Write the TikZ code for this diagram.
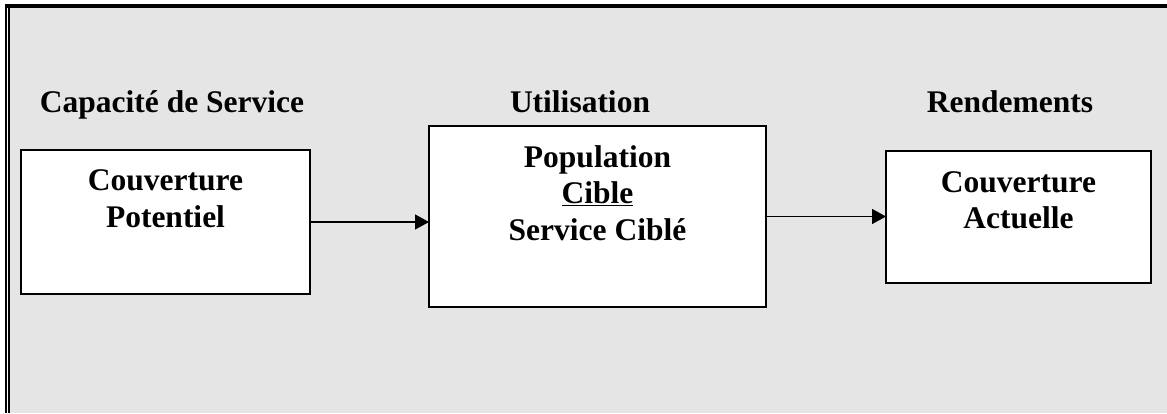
\documentclass[tikz,border=0pt]{standalone}
\usepackage{fontspec}
\setmainfont{Liberation Serif}
\usetikzlibrary{arrows.meta}
\definecolor{bggray}{HTML}{E5E5E5}
\tikzset{
  box/.style={draw=black, line width=2.5pt, fill=white, inner sep=0pt, outer sep=0pt},
  txt/.style={anchor=base, inner sep=0pt, font=\fontsize{31.5}{36.5}\selectfont\bfseries},
  conn/.style={line width=1.5pt, -{Triangle[length=14pt,width=15pt]}}
}
\begin{document}
\begin{tikzpicture}[x=1pt,y=-1pt]
\useasboundingbox (0,0) rectangle (1167,413);
\fill[white] (0,0) rectangle (1167,413);
\fill[bggray] (10,8) rectangle (1167,413);
\fill[black] (5,4) rectangle (1167,8);
\fill[black] (5,4) rectangle (7,413);
\fill[black] (8,8) rectangle (10,413);

\node[box, minimum width=289pt, minimum height=144pt] (b1) at (165.5,222) {};
\node[box, minimum width=337pt, minimum height=181pt] (b2) at (597.5,216.5) {};
\node[box, minimum width=265pt, minimum height=132pt] (b3) at (1018.5,217) {};

\node[txt] (t1) at (172,112) {Capacité de Service};
\node[txt] (t2) at (580,112) {Utilisation};
\node[txt] (t3) at (1010,112) {Rendements};

\node[txt] (b1a) at (165.5,190) {Couverture};
\node[txt] (b1b) at (165.5,227) {Potentiel};

\node[txt] (b2a) at (597.5,167) {Population};
\node[txt] (b2b) at (597.5,203) {\underline{Cible}};
\node[txt] (b2c) at (597.5,240) {Service Ciblé};

\node[txt] (b3a) at (1018.5,192) {Couverture};
\node[txt] (b3b) at (1018.5,228) {Actuelle};

\draw[conn] (b1.east) -- (b1.east -| b2.west);
\draw[conn] (b2.east) -- (b2.east -| b3.west);
\end{tikzpicture}
\end{document}
